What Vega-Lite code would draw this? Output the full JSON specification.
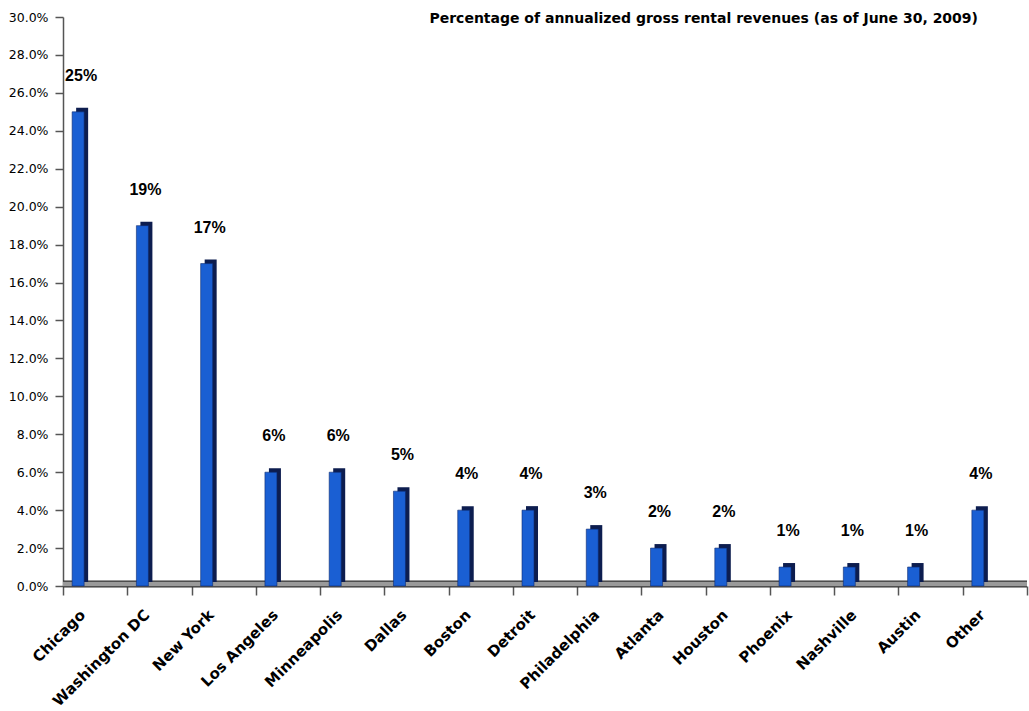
{
  "$schema": "https://vega.github.io/schema/vega-lite/v6.json",
  "width": 964,
  "height": 569,
  "autosize": {"type": "none"},
  "padding": {"left": 63, "top": 17, "right": 2, "bottom": 125},
  "background": "white",
  "config": {
    "view": {"stroke": null},
    "axisY": {"labelOverlap": false, "labelBound": false, "tickCount": 15, "labelFlush": false},
    "axisX": {"labelOverlap": false}
  },
  "title": {
    "text": "Percentage of annualized gross rental revenues (as of June 30, 2009)",
    "anchor": "end",
    "frame": "group",
    "orient": "top",
    "offset": 0,
    "baseline": "alphabetic",
    "dy": 26,
    "dx": -49,
    "font": "DejaVu Sans",
    "fontSize": 14,
    "fontWeight": "bold",
    "color": "black"
  },
  "data": {
    "values": [
      {"city": "Chicago", "pct": 0.25},
      {"city": "Washington DC", "pct": 0.19},
      {"city": "New York", "pct": 0.17},
      {"city": "Los Angeles", "pct": 0.06},
      {"city": "Minneapolis", "pct": 0.06},
      {"city": "Dallas", "pct": 0.05},
      {"city": "Boston", "pct": 0.04},
      {"city": "Detroit", "pct": 0.04},
      {"city": "Philadelphia", "pct": 0.03},
      {"city": "Atlanta", "pct": 0.02},
      {"city": "Houston", "pct": 0.02},
      {"city": "Phoenix", "pct": 0.01},
      {"city": "Nashville", "pct": 0.01},
      {"city": "Austin", "pct": 0.01},
      {"city": "Other", "pct": 0.04}
    ]
  },
  "layer": [
    {
      "data": {"values": [{"f": 1}]},
      "mark": {"type": "rule", "stroke": "#333333", "strokeWidth": 7, "yOffset": -2},
      "encoding": {"y": {"datum": 0, "type": "quantitative"}}
    },
    {
      "data": {"values": [{"f": 1}]},
      "mark": {"type": "rule", "stroke": "#9a9a9a", "strokeWidth": 4.5, "yOffset": -2},
      "encoding": {"y": {"datum": 0, "type": "quantitative"}}
    },
    {
      "mark": {"type": "bar", "width": 12, "xOffset": -13, "yOffset": -4, "color": "#0d1d4f"},
      "encoding": {
        "x": {
          "field": "city",
          "type": "nominal",
          "sort": null,
          "scale": {"paddingInner": 0, "paddingOuter": 0},
          "axis": {
            "title": null,
            "domain": false,
            "ticks": true,
            "tickBand": "extent",
            "tickSize": 9,
            "tickColor": "#555555",
            "tickWidth": 1.5,
            "labelAngle": -45,
            "labelAlign": "right",
            "labelBaseline": "middle",
            "labelFont": "DejaVu Sans",
            "labelFontWeight": "bold",
            "labelFontSize": 15,
            "labelColor": "black",
            "labelPadding": 17,
            "labelOffset": -13,
            "labelOverlap": false
          }
        },
        "y": {
          "field": "pct",
          "type": "quantitative",
          "scale": {"domain": [0, 0.3], "nice": false, "zero": true},
          "axis": {
            "title": null,
            "tickCount": 15,
            "format": ".1%",
            "labelOverlap": false,
            "labelBound": false,
            "grid": false,
            "domainColor": "#555555",
            "domainWidth": 1.5,
            "tickColor": "#555555",
            "tickWidth": 1.5,
            "tickSize": 8,
            "labelFont": "DejaVu Sans",
            "labelFontSize": 12.5,
            "labelColor": "black",
            "labelPadding": 7
          }
        }
      }
    },
    {
      "mark": {"type": "bar", "width": 12, "xOffset": -17, "color": "#1a5fd3", "stroke": "#0d2a6e", "strokeWidth": 0.6},
      "encoding": {
        "x": {"field": "city", "type": "nominal", "sort": null},
        "y": {"field": "pct", "type": "quantitative"}
      }
    },
    {
      "mark": {"type": "text", "font": "Liberation Sans", "fontSize": 16, "fontWeight": "bold", "color": "black", "baseline": "alphabetic", "dy": -31, "xOffset": -14},
      "encoding": {
        "x": {"field": "city", "type": "nominal", "sort": null},
        "y": {"field": "pct", "type": "quantitative"},
        "text": {"field": "pct", "type": "quantitative", "format": ".0%"}
      }
    }
  ]
}
